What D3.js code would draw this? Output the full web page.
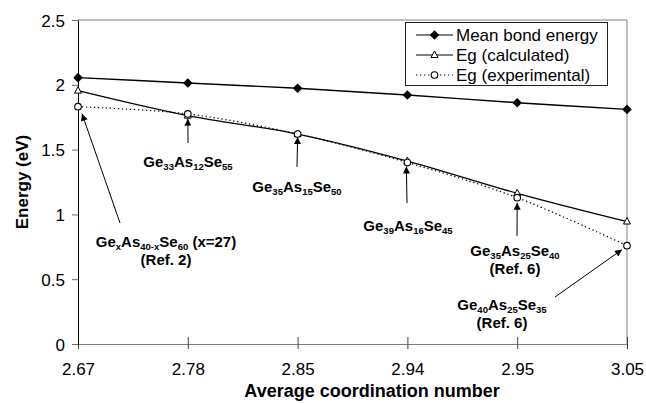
<!DOCTYPE html>
<html><head><meta charset="utf-8">
<script src="https://cdn.jsdelivr.net/npm/d3@7"></script>
<style>
html,body{margin:0;padding:0;background:#fff;}
svg{display:block;font-family:"Liberation Sans",Arial,sans-serif;}
</style></head>
<body>
<svg id="chart" width="646" height="404"></svg>
<script>
// ---- data ----
const categories = ["2.67","2.78","2.85","2.94","2.95","3.05"];
const meanBondEnergy = [2.055, 2.014, 1.973, 1.921, 1.862, 1.810];
const egCalculated   = [1.955, 1.762, 1.620, 1.412, 1.163, 0.945];
const egExperimental = [1.831, 1.775, 1.620, 1.400, 1.129, 0.759];
const yTicks = [0, 0.5, 1, 1.5, 2, 2.5];
const yTickLabels = ["0","0.5","1","1.5","2","2.5"];
const seriesNames = ["Mean bond energy","Eg (calculated)","Eg (experimental)"];
const xTitle = "Average coordination number";
const yTitle = "Energy (eV)";

// ---- layout ----
const svg = d3.select("#chart");
const L = 78, R = 627, T = 20, B = 344;
const x = d3.scalePoint().domain(categories).range([L, R]).padding(0);
const y = d3.scaleLinear().domain([0, 2.5]).range([B, T]);

const defs = svg.append("defs");
defs.append("marker").attr("id","ah").attr("viewBox","0 0 10 10")
  .attr("refX",10).attr("refY",5).attr("markerWidth",9).attr("markerHeight",7)
  .attr("markerUnits","userSpaceOnUse").attr("orient","auto")
  .append("path").attr("d","M0,0L10,5L0,10Z").attr("fill","#000");

// frame top & right
svg.append("line").attr("x1",L).attr("x2",R).attr("y1",T).attr("y2",T).attr("stroke","#808080");
svg.append("line").attr("x1",R).attr("x2",R).attr("y1",T).attr("y2",B).attr("stroke","#808080");

// axes
const xAxis = d3.axisBottom(x).tickSizeInner(5).tickSizeOuter(0).tickPadding(14);
const gx = svg.append("g").attr("transform",`translate(0,${B})`).call(xAxis);
gx.select(".domain").attr("stroke","#808080");
gx.selectAll(".tick line").attr("stroke","#444").attr("y1",-7);
gx.selectAll(".tick text").attr("font-size",17).attr("fill","#000")
  .attr("font-family","Liberation Sans, Arial, sans-serif");

const yAxis = d3.axisLeft(y).tickValues(yTicks).tickFormat((d,i)=>yTickLabels[i])
  .tickSizeInner(6).tickSizeOuter(0).tickPadding(7);
const gy = svg.append("g").attr("transform",`translate(${L},0)`).call(yAxis);
gy.select(".domain").attr("stroke","#000");
gy.selectAll(".tick line").attr("stroke","#666");
gy.selectAll(".tick text").attr("font-size",17).attr("fill","#000").attr("dy","0.36em")
  .attr("font-family","Liberation Sans, Arial, sans-serif");

// axis titles
svg.append("text").attr("x",372).attr("y",397).attr("text-anchor","middle")
  .attr("font-weight","bold").attr("font-size",18).text(xTitle);
svg.append("text").attr("transform","translate(28,182) rotate(-90)").attr("text-anchor","middle")
  .attr("font-weight","bold").attr("font-size",17).text(yTitle);

// lines
const curve = d3.curveCatmullRom.alpha(0);
const line = d3.line().x((d,i)=>x(categories[i])).y(d=>y(d)).curve(curve);
svg.append("path").attr("d",line(meanBondEnergy)).attr("fill","none").attr("stroke","#000").attr("stroke-width",1.4);
svg.append("path").attr("d",line(egCalculated)).attr("fill","none").attr("stroke","#000").attr("stroke-width",1.3);
svg.append("path").attr("d",line(egExperimental)).attr("fill","none").attr("stroke","#000").attr("stroke-width",1.2).attr("stroke-dasharray","1.3,2.7");

// markers
function diamond2(g,cx,cy){ g.append("path").attr("d",`M${cx},${cy-4.8}L${cx+4.8},${cy}L${cx},${cy+4.8}L${cx-4.8},${cy}Z`).attr("fill","#000"); }
function tri(g,cx,cy){ g.append("path").attr("d",`M${cx},${cy-4}L${cx+3.5},${cy+2.5}L${cx-3.5},${cy+2.5}Z`).attr("fill","#fff").attr("stroke","#000").attr("stroke-width",1); }
function circ(g,cx,cy){ g.append("circle").attr("cx",cx).attr("cy",cy).attr("r",3.3).attr("fill","#fff").attr("stroke","#000").attr("stroke-width",1.1); }
const mg = svg.append("g");
meanBondEnergy.forEach((v,i)=>diamond2(mg,x(categories[i]),y(v)));
egCalculated.forEach((v,i)=>tri(mg,x(categories[i]),y(v)));
egExperimental.forEach((v,i)=>circ(mg,x(categories[i]),y(v)));

// legend
const lg = svg.append("g");
lg.append("rect").attr("x",405.5).attr("y",22.5).attr("width",202).attr("height",63).attr("fill","#fff").attr("stroke","#222");
const drawers = [diamond2, tri, circ];
seriesNames.forEach((n,i)=>{
  const cy = 35 + i*20;
  lg.append("line").attr("x1",416).attr("x2",453).attr("y1",cy).attr("y2",cy).attr("stroke","#000")
    .attr("stroke-width",1.2).attr("stroke-dasharray", i===2 ? "1.3,2.7" : null);
  drawers[i](lg,434.5,cy);
  lg.append("text").attr("x",456).attr("y",cy+6).attr("font-size",17).text(n);
});

// annotations: text parts [text, isSub]
const annotations = [
  {lines:[[["Ge",0],["33",1],["As",0],["12",1],["Se",0],["55",1]]], cx:188, by:167,
   tail:[188,143], tip:[1, egCalculated, 0, 3]},
  {lines:[[["Ge",0],["35",1],["As",0],["15",1],["Se",0],["50",1]]], cx:297, by:192,
   tail:[297,167], tip:[2, egCalculated, 0, 3]},
  {lines:[[["Ge",0],["39",1],["As",0],["16",1],["Se",0],["45",1]]], cx:408, by:231,
   tail:[407,203], tip:[3, egExperimental, -1, 4]},
  {lines:[[["Ge",0],["35",1],["As",0],["25",1],["Se",0],["40",1]],[["(Ref. 6)",0]]], cx:515, by:256,
   tail:[517,236], tip:[4, egExperimental, 0, 5]},
  {lines:[[["Ge",0],["40",1],["As",0],["25",1],["Se",0],["35",1]],[["(Ref. 6)",0]]], cx:502, by:310,
   tail:[555,297], tip:[5, egExperimental, -5, 4]},
  {lines:[[["Ge",0],["x",1],["As",0],["40-x",1],["Se",0],["60",1],[" (x=27)",0]],[["(Ref. 2)",0]]], cx:166, by:247,
   tail:[120,223], tip:[0, egExperimental, 4, 7]}
];
const ag = svg.append("g");
annotations.forEach(a=>{
  a.lines.forEach((ln,li)=>{
    const t = ag.append("text").attr("x",a.cx).attr("y",a.by + li*18).attr("text-anchor","middle")
      .attr("font-weight","bold").attr("font-size",15);
    let sub=false;
    ln.forEach(([s,isSub])=>{
      const ts = t.append("tspan").text(s);
      if(isSub && !sub){ ts.attr("font-size",9.5).attr("dy",3); sub=true; }
      else if(isSub && sub){ ts.attr("font-size",9.5); }
      else if(!isSub && sub){ ts.attr("dy",-3); sub=false; }
    });
  });
  const [i, arr, dx, dy] = a.tip;
  ag.append("line").attr("x1",a.tail[0]).attr("y1",a.tail[1])
    .attr("x2",x(categories[i])+dx).attr("y2",y(arr[i])+dy)
    .attr("stroke","#000").attr("stroke-width",1).attr("marker-end","url(#ah)");
});
</script>
</body></html>
